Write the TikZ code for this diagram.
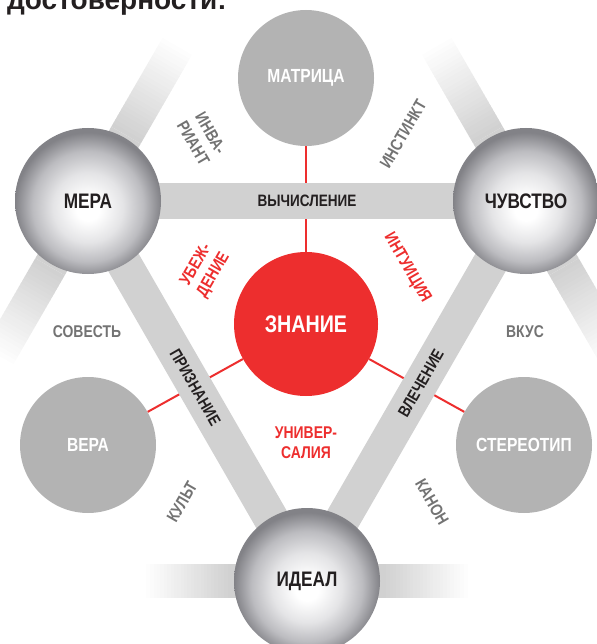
\documentclass[tikz,border=0pt]{standalone}
\usepackage{fontspec}
\setmainfont{Liberation Sans}[FakeStretch=0.82]
\newfontfamily\titlefont{Liberation Sans}
\usetikzlibrary{backgrounds}
\definecolor{barg}{RGB}{209,209,209}
\definecolor{discg}{RGB}{179,179,179}
\definecolor{knowred}{RGB}{237,46,46}
\definecolor{labelg}{RGB}{115,115,115}
\definecolor{inkblack}{RGB}{35,31,32}
\definecolor{sphedge}{RGB}{130,130,135}
\definecolor{sphmid}{RGB}{188,188,192}
\definecolor{sphlight}{RGB}{228,228,230}
\pgfdeclareradialshading{globeshade}{\pgfpoint{0bp}{-3bp}}{color(0bp)=(white); color(4bp)=(white); color(12bp)=(sphlight); color(19bp)=(sphmid); color(25bp)=(sphedge); color(50bp)=(sphedge)}
% fading stub of a bar: node, angle, length
\newcommand\fadebar[3]{%
  \begin{scope}[shift={(#1)},rotate=#2]
    \fill[barg] (0,-17) rectangle (76,17);
    \foreach \i [evaluate=\i as \c using int(100-4*\i)] in {0,...,24}
      \fill[barg!\c!white] ({76+(#3-76)/25*\i},-17) rectangle ({76.6+(#3-76)/25*(\i+1)},17);
  \end{scope}}
\tikzset{
  globe/.style={circle, minimum size=146pt, inner sep=0pt, shading=globeshade, text=inkblack, font=\bfseries\fontsize{21}{21}\selectfont},
  disc/.style={circle, minimum size=136pt, inner sep=0pt, fill=discg, text=white, font=\bfseries\fontsize{19}{19}\selectfont},
  core/.style={circle, minimum size=144pt, inner sep=0pt, fill=knowred, text=white, font=\bfseries\fontsize{24}{24}\selectfont},
  bar/.style={draw=barg, line width=35pt},
  barlabel/.style={text=inkblack, font=\bfseries\fontsize{16.5}{16.5}\selectfont},
  redlink/.style={draw=knowred, line width=2pt},
  tag/.style={text=labelg, align=center, font=\bfseries\fontsize{17}{20}\selectfont},
  redtag/.style={tag, text=knowred}
}
\begin{document}
\begin{tikzpicture}[x=1pt,y=-1pt]
  \useasboundingbox (0,0) rectangle (596,644);
  \node[anchor=base west, inner sep=0pt, font=\titlefont\bfseries\fontsize{28}{28}\selectfont, text=inkblack] (title) at (7,10) {достоверности:};

  \node[globe] (mera) at (88,201) {МЕРА};
  \node[globe] (chuvstvo) at (526,201) {ЧУВСТВО};
  \node[globe] (ideal) at (307,581) {ИДЕАЛ};
  \node[disc] (matrica) at (306,78) {МАТРИЦА};
  \node[disc] (vera) at (88,445) {ВЕРА};
  \node[disc] (stereotip) at (524,445) {СТЕРЕОТИП};
  \node[core] (znanie) at (306,324) {ЗНАНИЕ};

  \begin{pgfonlayer}{background}
    \draw[redlink] (znanie) -- (matrica);
    \draw[redlink] (znanie) -- (vera);
    \draw[redlink] (znanie) -- (stereotip);
    \fadebar{mera}{60}{178}
    \fadebar{mera}{240}{178}
    \fadebar{chuvstvo}{120}{178}
    \fadebar{chuvstvo}{-60}{178}
    \fadebar{ideal}{0}{160}
    \fadebar{ideal}{180}{160}
    \draw[bar] (mera.center) -- (chuvstvo.center) node[midway, barlabel] (vychislenie) {ВЫЧИСЛЕНИЕ};
    \draw[bar] (mera.center) -- (ideal.center) node[pos=.49, sloped, barlabel] (priznanie) {ПРИЗНАНИЕ};
    \draw[bar] (chuvstvo.center) -- (ideal.center) node[pos=.48, sloped, barlabel] (vlechenie) {ВЛЕЧЕНИЕ};
  \end{pgfonlayer}

  \node[tag, rotate=-60] (invariant) at (202,138) {ИНВА-\\РИАНТ};
  \node[tag, rotate=60] (instinkt) at (403,134) {ИНСТИНКТ};
  \node[redtag, rotate=60] (ubezhdenie) at (205,270) {УБЕЖ-\\ДЕНИЕ};
  \node[redtag, rotate=-60] (intuicia) at (407,268) {ИНТУИЦИЯ};
  \node[tag] (sovest) at (87,332) {СОВЕСТЬ};
  \node[tag] (vkus) at (525,332) {ВКУС};
  \node[redtag] (universalia) at (306,443) {УНИВЕР-\\САЛИЯ};
  \node[tag, rotate=60] (kult) at (182,502) {КУЛЬТ};
  \node[tag, rotate=-60] (kanon) at (432,502) {КАНОН};
\end{tikzpicture}
\end{document}
